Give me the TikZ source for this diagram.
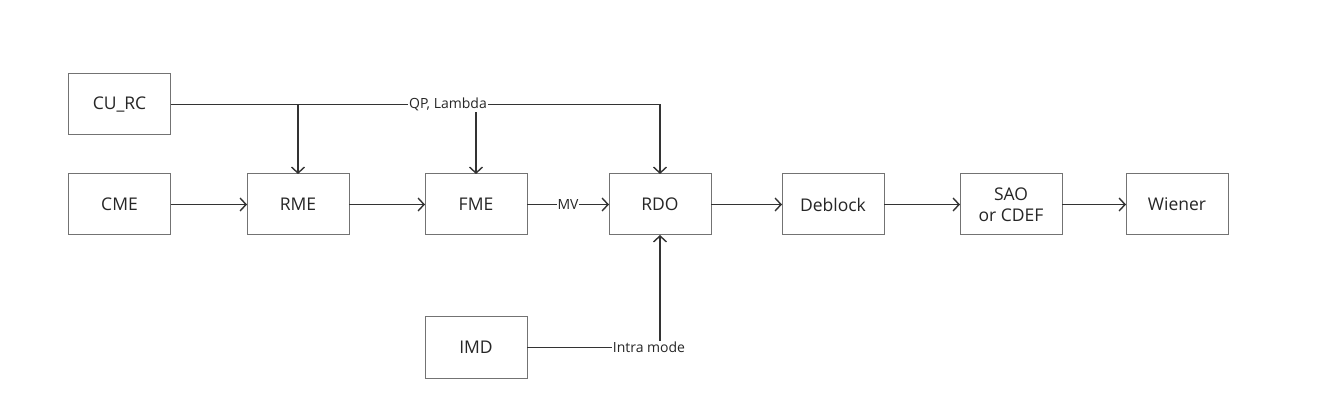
\documentclass[tikz,border=0pt]{standalone}
\usepackage{fontspec}
\setmainfont{Open Sans}
\usepackage{tikz}
\usetikzlibrary{arrows.meta}

\begin{document}
\begin{tikzpicture}[x=1pt,y=-1pt]
  \tikzset{BlockStyle/.style = {
    shape         = rectangle,
    draw          = black!55,
    fill          = white,
    line width    = 1pt,
    text          = black!85,
    inner sep     = 1pt,
    outer sep     = 0pt,
    minimum width = 102pt,
    minimum height= 61pt,
    align         = center,
    font          = \fontsize{17.5}{21}\selectfont
    }
  }
  \tikzset{EdgeStyle/.style = {
    draw          = black!80,
    line width    = 1.6pt
    }
  }
  \tikzset{ArrowStyle/.style = {
    EdgeStyle,
    -{Straight Barb[length=6pt,width=13pt,line width=1.4pt]}
    }
  }
  \tikzset{LabelStyle/.style = {
    shape         = rectangle,
    inner sep     = 1pt,
    outer sep     = 0pt,
    text          = black!85,
    font          = \fontsize{14}{17}\selectfont
    }
  }

  \useasboundingbox (0,0) rectangle (1324,419);

	\node[BlockStyle](CURC) at (119.5, 104.5) {CU\_RC};
	\node[BlockStyle](CME) at (119.5, 204.5) {CME};
	\node[BlockStyle](RME) at (298, 204.5) {RME};
	\node[BlockStyle](FME) at (476, 204.5) {FME};
	\node[BlockStyle](RDO) at (660, 204.5) {RDO};
	\node[BlockStyle](DBK) at (833, 204.5) {Deblock};
	\node[BlockStyle](SAO) at (1011, 204.5) {SAO\\or CDEF};
	\node[BlockStyle](WIE) at (1177, 204.5) {Wiener};
	\node[BlockStyle](IMD) at (476, 347.5) {IMD};
	\node[LabelStyle](QP) at (448, 104.5) {QP, Lambda};
	\node[LabelStyle](MV) at (568, 204.5) {MV};
	\node[LabelStyle](INTRA) at (649, 347.5) {Intra mode};
	\coordinate (J1) at (RME.north |- CURC.east);
	\draw[EdgeStyle](CURC.east) -- (QP.west);
	\draw[ArrowStyle](J1) -- (RME.north);
	\draw[ArrowStyle](QP.south -| FME.north) -- (FME.north);
	\draw[ArrowStyle](QP.east) -| (RDO.north);
	\draw[ArrowStyle](CME) -- (RME);
	\draw[ArrowStyle](RME) -- (FME);
	\draw[EdgeStyle](FME) -- (MV);
	\draw[ArrowStyle](MV) -- (RDO);
	\draw[ArrowStyle](RDO) -- (DBK);
	\draw[ArrowStyle](DBK) -- (SAO);
	\draw[ArrowStyle](SAO) -- (WIE);
	\draw[EdgeStyle](IMD) -- (INTRA.west);
	\draw[ArrowStyle](INTRA.north -| RDO.south) -- (RDO.south);

  \end{tikzpicture}
\end{document}
